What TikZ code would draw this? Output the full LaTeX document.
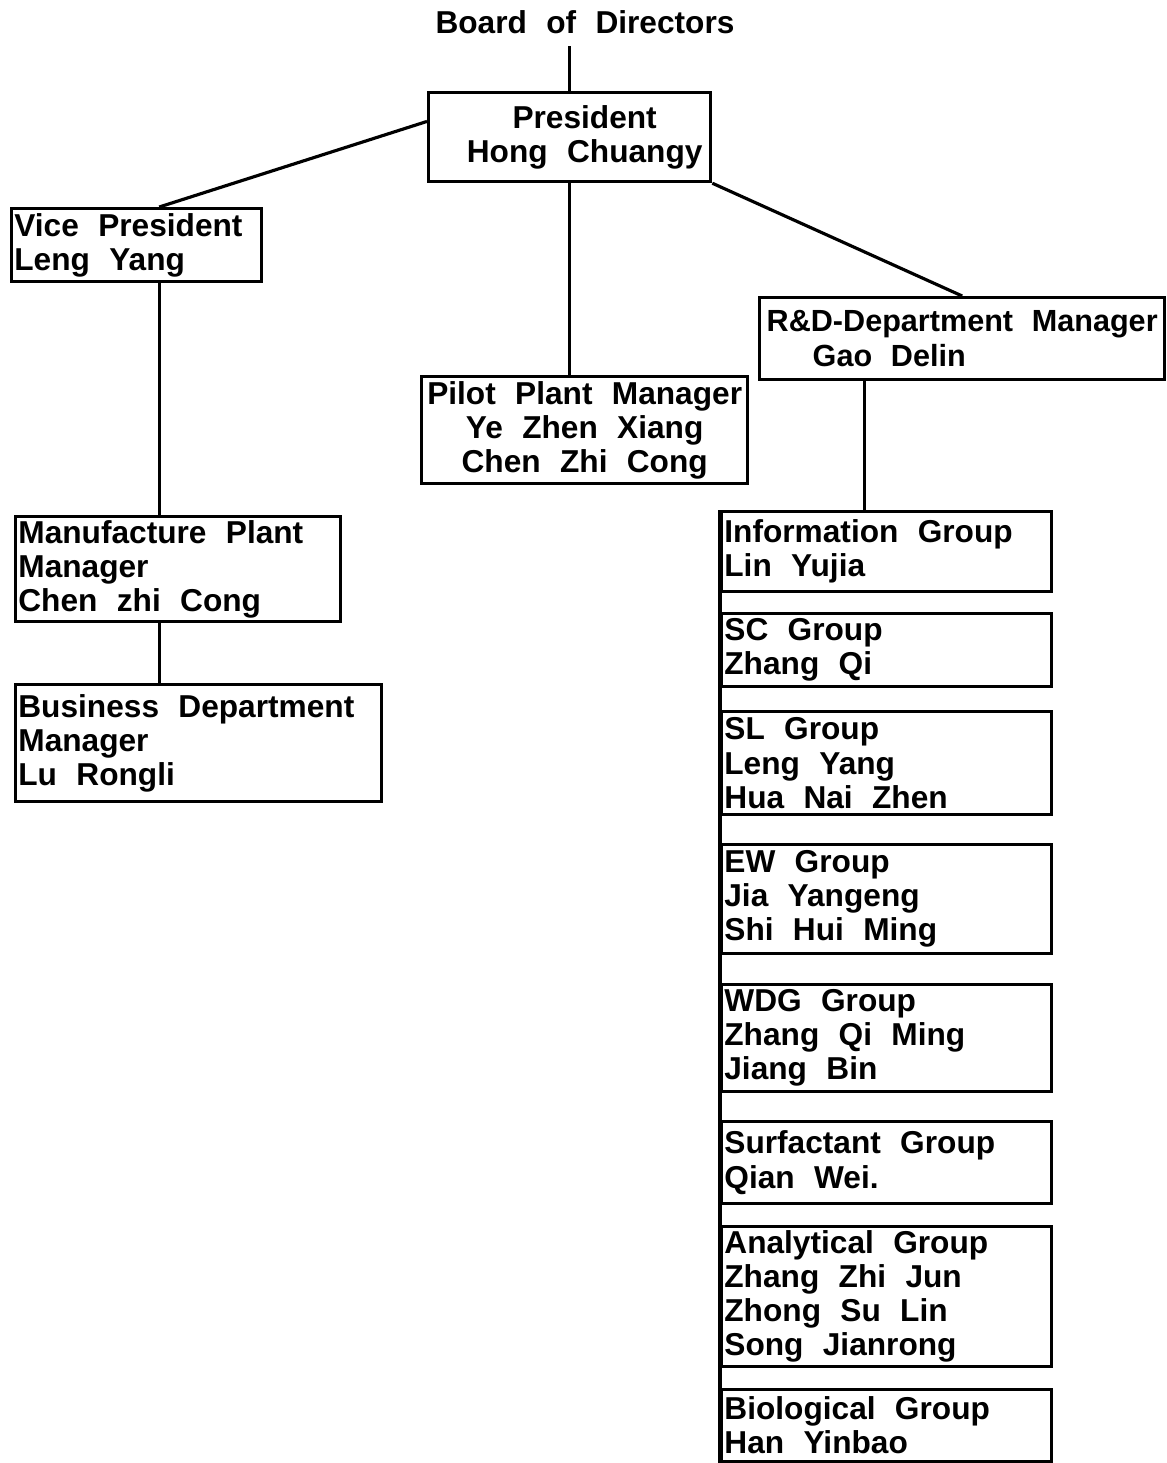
\documentclass[tikz,border=0pt]{standalone}
\usepackage{fontspec}
\setmainfont{Liberation Sans}[WordSpace=2.2]
\usetikzlibrary{calc}

\begin{document}
\begin{tikzpicture}[x=0.01cm, y=-0.01cm,
  every node/.style={font=\fontsize{9}{9.7}\selectfont\bfseries},
  unit/.style={draw, line width=0.9pt, anchor=north west, inner xsep=0.8pt, inner ysep=0pt, align=flush left},
  link/.style={line width=0.9pt}]
\useasboundingbox (0,0) rectangle (1166,1463);

\node (board) at (585,22) {Board of Directors};
\node (pres) at (427,91) [unit, align=center, minimum width=2.82cm, minimum height=0.89cm]{\hspace*{0.3cm}President\\\hspace*{0.3cm}Hong Chuangy};
\node (vp) at (10,207) [unit, text width=2.44cm, minimum height=0.73cm]{Vice President\\Leng Yang};
\node (mfg) at (14,515) [unit, text width=3.19cm, minimum height=1.05cm]{Manufacture Plant\\Manager\\Chen zhi Cong};
\node (biz) at (14,683) [unit, text width=3.60cm, minimum height=1.17cm]{Business Department\\Manager\\Lu Rongli};
\node (pilot) at (420,375) [unit, align=center, minimum width=3.26cm, minimum height=1.07cm]{Pilot Plant Manager\\Ye Zhen Xiang\\Chen Zhi Cong};
\node (rd) at (758,296) [unit, align=left, minimum width=4.05cm, minimum height=0.82cm, font=\fontsize{8.7}{9.7}\selectfont\bfseries]{R\&D-Department Manager\\\hspace*{0.46cm}Gao Delin};

\node (info) at (720,510) [unit, text width=3.24cm, minimum height=0.80cm]{Information Group\\Lin Yujia};
\node (sc) at (720,612) [unit, text width=3.24cm, minimum height=0.73cm]{SC Group\\Zhang Qi};
\node (sl) at (720,710) [unit, text width=3.24cm, minimum height=1.03cm]{SL Group\\Leng Yang\\Hua Nai Zhen};
\node (ew) at (720,843) [unit, text width=3.24cm, minimum height=1.09cm]{EW Group\\Jia Yangeng\\Shi Hui Ming};
\node (wdg) at (720,983) [unit, text width=3.24cm, minimum height=1.07cm]{WDG Group\\Zhang Qi Ming\\Jiang Bin};
\node (surf) at (720,1120) [unit, text width=3.24cm, minimum height=0.82cm]{Surfactant Group\\Qian Wei.};
\node (anal) at (720,1225) [unit, text width=3.24cm, minimum height=1.40cm]{Analytical Group\\Zhang Zhi Jun\\Zhong Su Lin\\Song Jianrong};
\node (bio) at (720,1388) [unit, text width=3.24cm, minimum height=0.72cm]{Biological Group\\Han Yinbao};

\draw[link] (board.south -| pres.north) -- (pres.north);
\draw[link] ($(pres.north west)!0.33!(pres.south west)$) -- ($(vp.north west)!0.59!(vp.north east)$);
\draw[link] (pres.south) -- (pres.south |- pilot.north);
\draw[link] (pres.south east) -- (rd.north);
\coordinate (vpfoot) at ($(vp.south west)!0.59!(vp.south east)$);
\draw[link] (vpfoot) -- (vpfoot |- mfg.north);
\draw[link] (vpfoot |- mfg.south) -- (vpfoot |- biz.north);
\coordinate (rdfoot) at ($(rd.south west)!0.26!(rd.south east)$);
\draw[link] (rdfoot) -- (rdfoot |- info.north);
\draw[link] (info.north west) -- (bio.south west);
\end{tikzpicture}
\end{document}
